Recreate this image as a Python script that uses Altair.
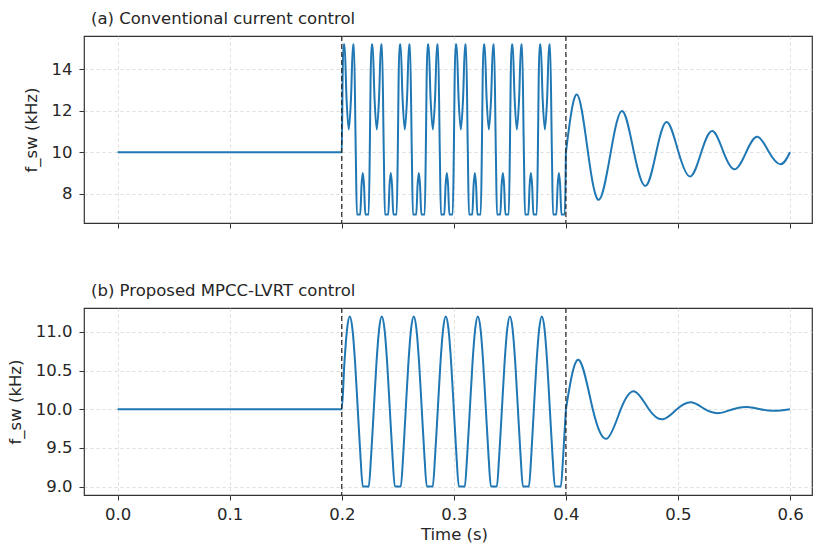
import altair as alt
import pandas as pd

# ---------------- data ----------------
x_ticks = [0.0, 0.1, 0.2, 0.3, 0.4, 0.5, 0.6]
fault_times = [0.2, 0.4]

# steady state before the fault (both panels)
pre_t = [0.0, 0.2]
pre_v = [10.0, 10.0]

# (a) conventional: one clipped cycle (phase = fraction of cycle) repeated during the fault
a_cycle_phase = [0.000, 0.030, 0.065, 0.100, 0.170, 0.250, 0.330, 0.400, 0.435,
                 0.500, 0.540, 0.660, 0.705, 0.750, 0.795, 0.840, 0.960]
a_cycle_value = [10.0, 13.6, 15.2, 15.2, 12.6, 11.1, 12.6, 15.2, 15.2,
                 10.0, 7.0, 7.0, 8.4, 9.0, 8.4, 7.0, 7.0]
a_cycle_start = [0.200, 0.225, 0.250, 0.275, 0.300, 0.325, 0.350, 0.375]
a_cycle_len = 0.025

# (a) after fault clearance: peaks, troughs and crossings
a_post_t = [0.4000, 0.4098, 0.4197, 0.4295, 0.4400, 0.4503, 0.4607, 0.4711, 0.4806,
            0.4901, 0.5005, 0.5110, 0.5208, 0.5307, 0.5407, 0.5507, 0.5608, 0.5709,
            0.5813, 0.5917, 0.6000]
a_post_v = [10.0, 12.79, 10.0, 7.71, 10.0, 11.99, 10.0, 8.38, 10.0,
            11.46, 10.0, 8.83, 10.0, 11.03, 10.0, 9.18, 10.0, 10.75,
            10.0, 9.42, 10.0]

# (b) proposed: one clipped cycle repeated during the fault
b_cycle_phase = [0.000, 0.083, 0.167, 0.250, 0.333, 0.417, 0.500, 0.583, 0.657, 0.843, 0.917]
b_cycle_value = [10.0, 10.6, 11.04, 11.2, 11.04, 10.6, 10.0, 9.4, 9.0, 9.0, 9.4]
b_cycle_start = [0.2000, 0.2286, 0.2571, 0.2857, 0.3143, 0.3429, 0.3714]
b_cycle_len = 0.02857

# (b) after fault clearance
b_post_t = [0.4000, 0.4113, 0.4240, 0.4366, 0.4490, 0.4613, 0.4740, 0.4866, 0.4990,
            0.5119, 0.5240, 0.5363, 0.5490, 0.5616, 0.5735, 0.5855, 0.6000]
b_post_v = [10.0, 10.64, 10.0, 9.62, 10.0, 10.23, 10.0, 9.87, 10.0,
            10.09, 10.0, 9.95, 10.0, 10.03, 10.0, 9.98, 10.0]


def build(cycle_phase, cycle_value, cycle_start, cycle_len, post_t, post_v):
    t = list(pre_t[:-1])
    v = list(pre_v[:-1])
    for s in cycle_start:
        for p, val in zip(cycle_phase, cycle_value):
            t.append(s + p * cycle_len)
            v.append(val)
    t.append(post_t[0])
    v.append(post_v[0])
    return pd.DataFrame({"t": t, "v": v}), pd.DataFrame({"t": post_t, "v": post_v})


df_a, df_a_post = build(a_cycle_phase, a_cycle_value, a_cycle_start, a_cycle_len, a_post_t, a_post_v)
df_b, df_b_post = build(b_cycle_phase, b_cycle_value, b_cycle_start, b_cycle_len, b_post_t, b_post_v)
df_fault = pd.DataFrame({"t": fault_times})

X_DOMAIN = [-0.03, 0.6196]
W, H = 728, 187
FS = 16.5
BLUE = "#1f77b4"


def panel(df, df_post, title, ydom, yvals, yfmt, bottom):
    xaxis_kw = dict(values=x_ticks, format=".1f", labels=bottom)
    if bottom:
        xaxis_kw.update(title="Time (s)", titleX=370)
    else:
        xaxis_kw.update(title="")
    x = alt.X("t:Q", scale=alt.Scale(domain=X_DOMAIN, nice=False, zero=False),
              axis=alt.Axis(**xaxis_kw))
    y = alt.Y("v:Q", scale=alt.Scale(domain=ydom, nice=False, zero=False),
              axis=alt.Axis(values=yvals, format=yfmt, title="f_sw (kHz)"))
    line = alt.Chart(df).mark_line(interpolate="monotone", color=BLUE,
                                   strokeWidth=2).encode(x=x, y=y)
    line_post = alt.Chart(df_post).mark_line(interpolate="natural", color=BLUE,
                                             strokeWidth=2).encode(x="t:Q", y="v:Q")
    rules = alt.Chart(df_fault).mark_rule(color="#222222", strokeDash=[5, 3],
                                          strokeWidth=1.2).encode(x="t:Q")
    return alt.layer(line, line_post, rules).properties(
        width=W, height=H,
        title=alt.TitleParams(title, anchor="start", frame="group", dx=7))


top = panel(df_a, df_a_post, "(a) Conventional current control", [6.59, 15.61],
            [8, 10, 12, 14], "d", False)
bot = panel(df_b, df_b_post, "(b) Proposed MPCC-LVRT control", [8.89, 11.31],
            [9.0, 9.5, 10.0, 10.5, 11.0], ".1f", True)

chart = alt.vconcat(top, bot, spacing=52).properties(
    padding={"left": 6, "top": 10, "right": 0, "bottom": 0},
    background="white"
).configure_view(
    stroke="#333333", strokeWidth=1.2
).configure_axis(
    grid=True, gridColor="#d4d4d4", gridDash=[3, 3], gridWidth=0.8,
    domain=False, tickColor="#333333", tickSize=5, tickWidth=1,
    labelFont="DejaVu Sans", labelFontSize=FS, labelColor="#262626",
    titleFont="DejaVu Sans", titleFontSize=FS, titleColor="#262626",
    titleFontWeight="normal"
).configure_axisY(
    labelPadding=7, titlePadding=12
).configure_axisX(
    labelPadding=6, titlePadding=4
).configure_title(
    font="DejaVu Sans", fontSize=FS, fontWeight="normal", color="#262626", offset=8
)

chart.save("out.html", embed_options={"renderer": "svg", "actions": False})
